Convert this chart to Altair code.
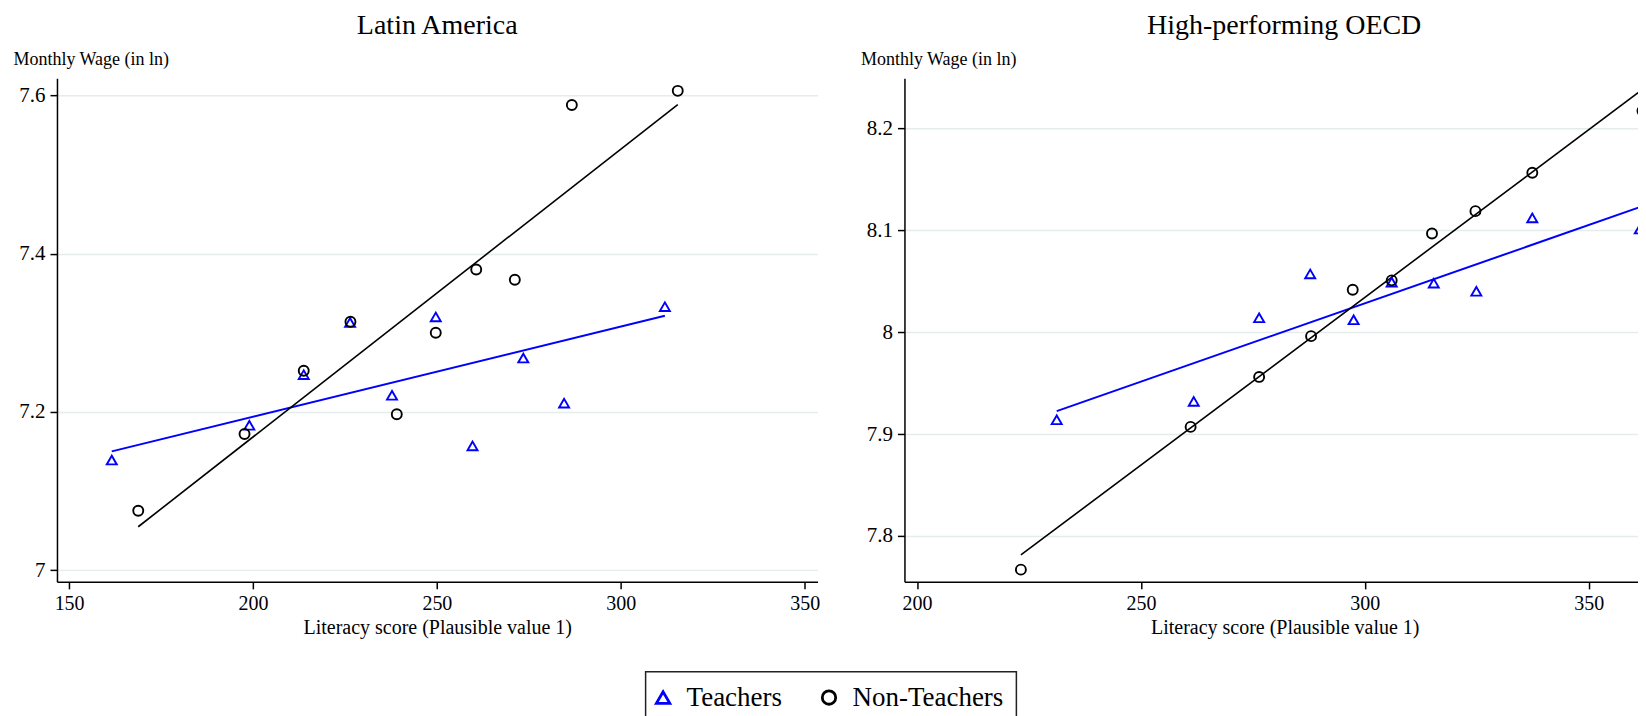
import altair as alt
import pandas as pd

groups = ["Teachers", "Non-Teachers"]
group_colors = ["#0000ff", "#000000"]
group_shapes = ["triangle-up", "circle"]

# Latin America
la_teach_x = [161.6, 199.0, 213.8, 226.4, 237.8, 249.7, 259.7, 273.5, 284.6, 312.0]
la_teach_y = [7.139, 7.183, 7.247, 7.313, 7.221, 7.320, 7.157, 7.268, 7.211, 7.333]
la_non_x = [168.8, 197.7, 213.8, 226.5, 239.1, 249.7, 260.7, 271.2, 286.7, 315.5]
la_non_y = [7.075, 7.172, 7.252, 7.314, 7.197, 7.300, 7.380, 7.367, 7.588, 7.606]
# fitted lines (end points)
la_teach_fit_x = [161.6, 312.0]
la_teach_fit_y = [7.150, 7.3215]
la_non_fit_x = [168.8, 315.5]
la_non_fit_y = [7.0547, 7.5886]

# High-performing OECD
oe_teach_x = [231.2, 261.8, 276.4, 287.8, 297.5, 306.0, 315.4, 324.9, 337.4, 361.4]
oe_teach_y = [7.914, 7.932, 8.014, 8.057, 8.012, 8.049, 8.048, 8.040, 8.112, 8.101]
oe_non_x = [223.2, 261.1, 276.4, 288.0, 297.3, 306.0, 315.0, 324.7, 337.4, 362.0]
oe_non_y = [7.767, 7.907, 7.956, 7.996, 8.0415, 8.0507, 8.0967, 8.1186, 8.1562, 8.217]
oe_teach_fit_x = [231.2, 361.4]
oe_teach_fit_y = [7.9225, 8.1225]
oe_non_fit_x = [223.2, 362.0]
oe_non_fit_y = [7.7814, 8.2379]

la_xticks = [150, 200, 250, 300, 350]
la_yticks = [7, 7.2, 7.4, 7.6]
oe_xticks = [200, 250, 300, 350]
oe_yticks = [7.8, 7.9, 8, 8.1, 8.2]

FONT = "Liberation Serif"


def make_df(tx, ty, nx, ny):
    rows = [{"score": a, "wage": b, "group": groups[0]} for a, b in zip(tx, ty)]
    rows += [{"score": a, "wage": b, "group": groups[1]} for a, b in zip(nx, ny)]
    return pd.DataFrame(rows)


def panel(df, fit_df, title, xdom, xvals, ydom, yvals, width, height, title_dx, xtitle_x):
    xenc = alt.X("score:Q",
                 scale=alt.Scale(domain=xdom, nice=False, zero=False),
                 axis=alt.Axis(values=xvals, title="Literacy score (Plausible value 1)",
                               format="d", titleX=xtitle_x))
    yenc = alt.Y("wage:Q",
                 scale=alt.Scale(domain=ydom, nice=False, zero=False),
                 axis=alt.Axis(values=yvals, title="Monthly Wage (in ln)", format="~r"))
    layers = []
    for g, c, w in zip(groups, group_colors, [2, 1.6]):
        layers.append(
            alt.Chart(fit_df).transform_filter(alt.datum.group == g)
            .mark_line(color=c, strokeWidth=w, clip=True)
            .encode(x=xenc, y=yenc)
        )
    pts = alt.Chart(df).mark_point(filled=False, strokeWidth=1.9, size=100, opacity=1,
                                   clip=True).encode(
        x=xenc, y=yenc,
        color=alt.Color("group:N", scale=alt.Scale(domain=groups, range=group_colors),
                        legend=alt.Legend(title=None)),
        shape=alt.Shape("group:N", scale=alt.Scale(domain=groups, range=group_shapes),
                        legend=alt.Legend(title=None)),
    )
    return alt.layer(*layers, pts).properties(
        width=width, height=height,
        title=alt.TitleParams(title, dx=title_dx),
    )


left = panel(make_df(la_teach_x, la_teach_y, la_non_x, la_non_y),
             make_df(la_teach_fit_x, la_teach_fit_y, la_non_fit_x, la_non_fit_y),
             "Latin America",
             [146.7, 353.5], la_xticks, [6.985, 7.622], la_yticks, 761, 504, 0, 380.5)
right = panel(make_df(oe_teach_x, oe_teach_y, oe_non_x, oe_non_y),
              make_df(oe_teach_fit_x, oe_teach_fit_y, oe_non_fit_x, oe_non_fit_y),
              "High-performing OECD",
              [197.2, 361.0], oe_xticks, [7.755, 8.249], oe_yticks, 734, 504, 13, 380.5)

chart = (
    alt.hconcat(left, right, spacing=40)
    .properties(padding={"left": 5, "top": 4, "right": 0, "bottom": 0})
    .configure_view(stroke=None)
    .configure_axis(
        labelFont=FONT, titleFont=FONT, labelColor="black", titleColor="black",
        titleFontWeight="normal", domainColor="black", domainWidth=1.5,
        tickColor="black", tickWidth=1.5, tickSize=7,
        gridColor="#e4ecee", gridWidth=1.5,
    )
    .configure_axisX(grid=False, labelFontSize=20, titleFontSize=20, labelPadding=5,
                     titleY=52, titleBaseline="alphabetic")
    .configure_axisY(grid=True, labelFontSize=21, titleFontSize=18, labelPadding=5,
                     titleAngle=0, titleAlign="left", titleX=-44, titleY=-14,
                     titleBaseline="alphabetic")
    .configure_title(font=FONT, fontSize=28, fontWeight="normal", color="black",
                     anchor="middle", baseline="alphabetic", offset=10)
    .configure_legend(orient="none", legendX=589, legendY=594, direction="horizontal",
                      strokeColor="#222222", strokeWidth=1.5, fillColor="white", padding=12,
                      labelFont=FONT, labelFontSize=27, labelColor="black", labelOffset=10,
                      symbolOffset=-8, symbolSize=180, symbolStrokeWidth=2.8,
                      columnPadding=34)
)

chart.save("out.html", embed_options={"renderer": "svg", "actions": False})
